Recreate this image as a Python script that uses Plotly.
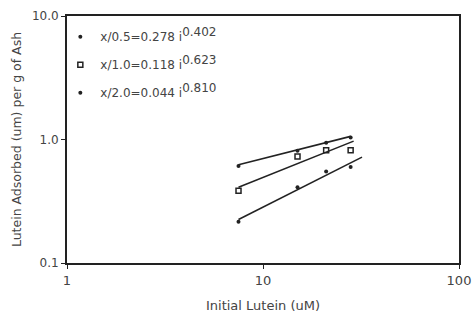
import plotly.graph_objects as go

# Data
lutein_init = [7.5, 15, 21, 28]
ads_05 = [0.61, 0.81, 0.94, 1.04]
ads_10 = [0.385, 0.73, 0.82, 0.82]
ads_20 = [0.216, 0.41, 0.55, 0.60]

fit_05_x = [7.5, 28]
fit_05_y = [0.625, 1.06]
fit_10_x = [7.5, 29]
fit_10_y = [0.41, 0.97]
fit_20_x = [7.5, 32]
fit_20_y = [0.225, 0.72]

sup = "<sup><span style='font-size:12px'>%s</span></sup>"
names = [
    "x/0.5=0.278 i" + sup % "0.402",
    "x/1.0=0.118 i" + sup % "0.623",
    "x/2.0=0.044 i" + sup % "0.810",
]

ink = "#222222"
txt = "#444444"
font = "DejaVu Sans"

fig = go.Figure()
for fx, fy in [(fit_05_x, fit_05_y), (fit_10_x, fit_10_y), (fit_20_x, fit_20_y)]:
    fig.add_trace(go.Scatter(x=fx, y=fy, mode="lines", line=dict(color=ink, width=1.6),
                             showlegend=False, hoverinfo="skip"))

fig.add_trace(go.Scatter(x=lutein_init, y=ads_05, mode="markers", name=names[0],
                         marker=dict(symbol="circle", size=4, color=ink), legendgroup="a"))
fig.add_trace(go.Scatter(x=lutein_init, y=ads_10, mode="markers", name=names[1],
                         marker=dict(symbol="square-open", size=5, color=ink, line=dict(width=1.5)),
                         legendgroup="b"))
fig.add_trace(go.Scatter(x=lutein_init, y=ads_20, mode="markers", name=names[2],
                         marker=dict(symbol="circle", size=4, color=ink), legendgroup="c"))

fig.update_layout(
    width=475, height=315,
    margin=dict(l=67, r=16, t=16, b=52),
    paper_bgcolor="white", plot_bgcolor="white",
    font=dict(family=font, size=12, color=txt),
    legend=dict(x=-0.017, y=0.975, xanchor="left", yanchor="top", bgcolor="rgba(0,0,0,0)",
                font=dict(size=12, color=txt), tracegroupgap=9, traceorder="grouped",
                itemwidth=30),
    xaxis=dict(type="log", range=[0, 2], tickvals=[1, 10, 100], ticktext=["1", "10", "100"],
               showgrid=False, zeroline=False, showline=True, linecolor=ink, linewidth=2,
               mirror=True, ticks="outside", ticklen=4, tickcolor=ink, automargin=False,
               title=dict(text="Initial Lutein (uM)", font=dict(size=13, color=txt), standoff=14),
               tickfont=dict(size=13, color=txt)),
    yaxis=dict(type="log", range=[-1, 1], tickvals=[0.1, 1, 10], ticktext=["0.1", "1.0", "10.0"],
               showgrid=False, zeroline=False, showline=True, linecolor=ink, linewidth=2,
               mirror=True, ticks="outside", ticklen=4, tickcolor=ink, automargin=False,
               title=dict(text="Lutein Adsorbed (um) per g of Ash", font=dict(size=12.5, color=txt),
                          standoff=8),
               tickfont=dict(size=12, color=txt)),
)

fig.write_html("out.html", config={"displayModeBar": False},
               post_script="document.body.style.margin='0';")
